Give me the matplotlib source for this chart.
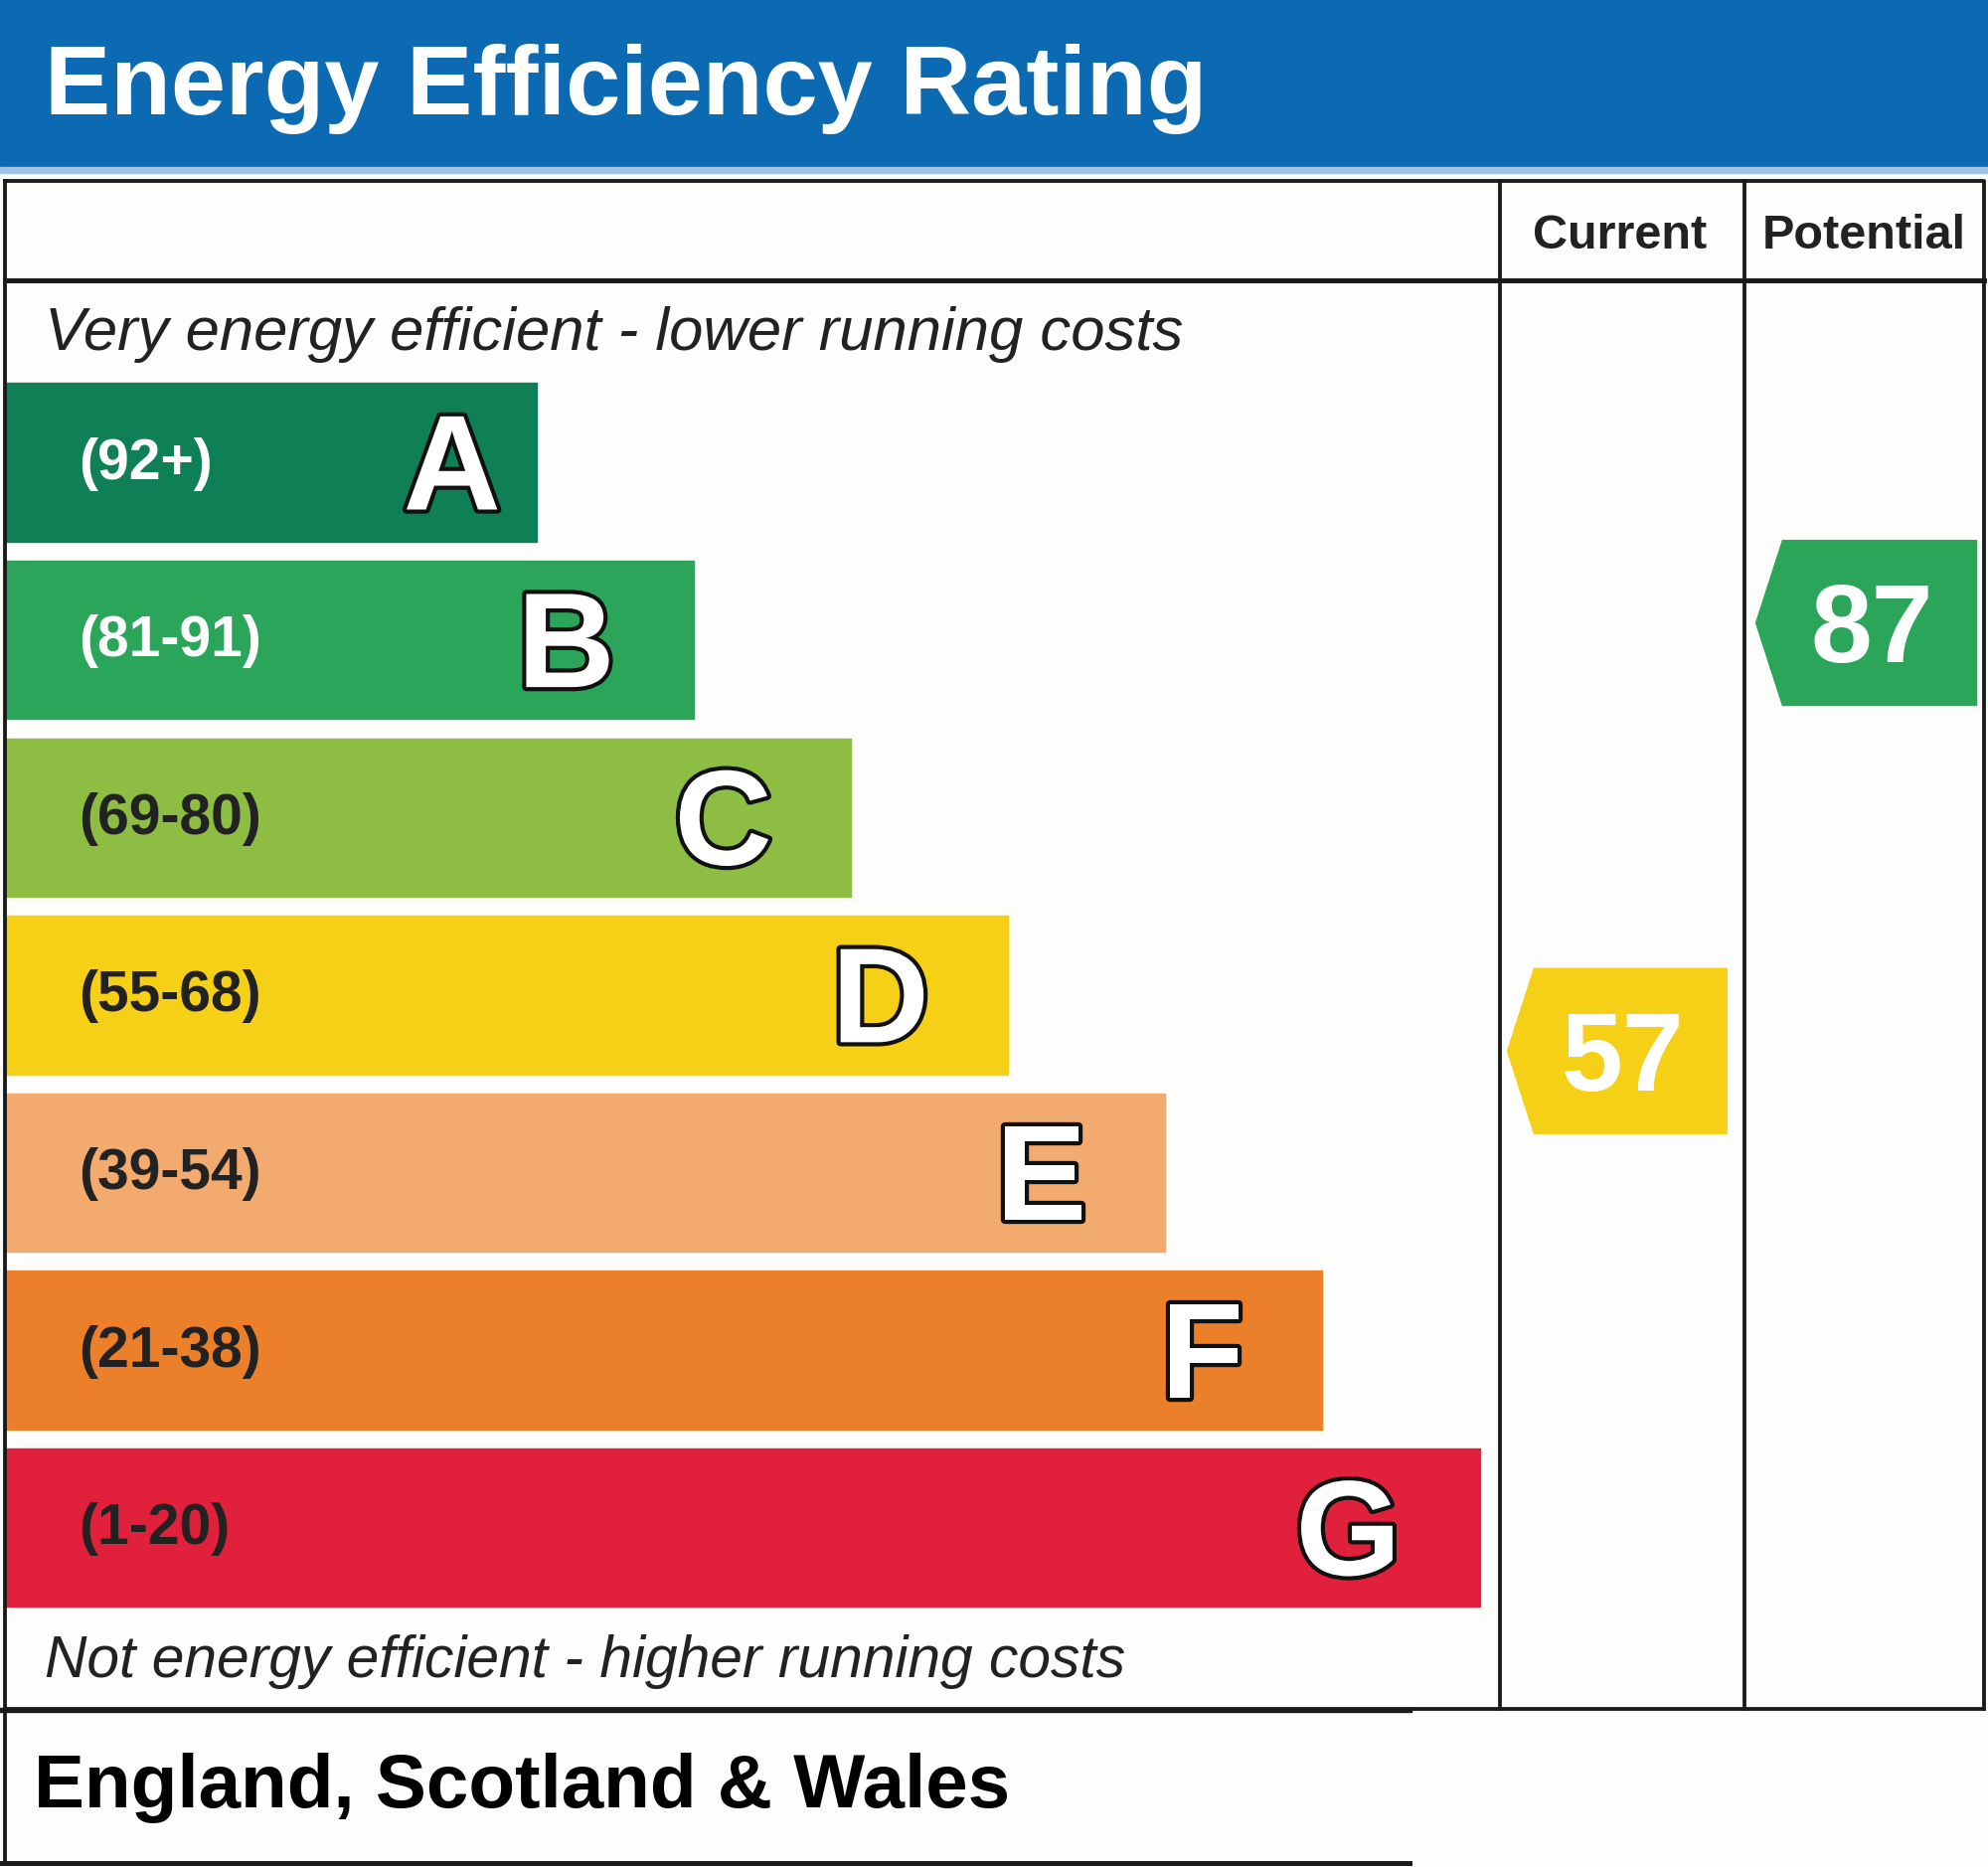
import matplotlib.pyplot as plt
import matplotlib.patheffects as pe
from matplotlib.patches import Rectangle, Polygon

# rating bands, top (best) to bottom
letters = ["A", "B", "C", "D", "E", "F", "G"]
ranges = ["(92+)", "(81-91)", "(69-80)", "(55-68)", "(39-54)", "(21-38)", "(1-20)"]
band_low = [92, 81, 69, 55, 39, 21, 1]
band_high = [100, 91, 80, 68, 54, 38, 20]
band_colors = ["#0f7f56", "#2aa55a", "#8dbe43", "#f6cf17", "#f3aa6e", "#ec7f2a", "#e1203c"]
label_colors = ["white", "white", "#222222", "#222222", "#222222", "#222222", "#222222"]

current_rating = 57
potential_rating = 87

# drawing units follow the picture at 1568 x 1472, saved at 2000 x 1878
W, H = 1568, 1472
S = 2000 / W
PT = S * 72 / 100          # points per drawing unit
CAP = 0.716                 # cap height of Liberation Sans, in em

plt.rcParams['font.family'] = ['Liberation Sans', 'DejaVu Sans']

fig = plt.figure(figsize=(20, 18.78), dpi=100)
fig.patch.set_facecolor("#fdfdfb")
ax = fig.add_axes([0, 0, 1, 1])
ax.set_xlim(0, W)
ax.set_ylim(H, 0)
ax.axis("off")


def cap_px(size):
    return size / PT * CAP


# blue header
ax.add_patch(Rectangle((0, 0), W, 132, color="#0b6ab2", zorder=1))
ax.add_patch(Rectangle((0, 132), W, 4, color="#9fc3e6", zorder=1))
ax.text(35, 90, "Energy Efficiency Rating", color="white", fontsize=71.5,
        fontweight="bold", va="baseline", ha="left")

# table frame
lw = 3 * PT
left, top, right, bottom = 4, 143, 1565, 1347
col1, col2 = 1183, 1376
head_y = 221
ax.plot([left, right, right], [top, top, bottom], color="#1a1a1a", lw=lw, zorder=5)
ax.plot([left, left], [top, 1470], color="#1a1a1a", lw=lw, zorder=5)
ax.plot([left, right], [head_y, head_y], color="#1a1a1a", lw=lw * 1.3, zorder=5)
ax.plot([col1, col1], [top, bottom], color="#1a1a1a", lw=lw, zorder=5)
ax.plot([col2, col2], [top, bottom], color="#1a1a1a", lw=lw, zorder=5)
ax.plot([left, right], [bottom, bottom], color="#1a1a1a", lw=lw, zorder=5)
ax.plot([0, 1112], [bottom + 1, bottom + 1], color="#1a1a1a", lw=lw * 1.4, zorder=5)
ax.plot([0, 1112], [1469, 1469], color="#1a1a1a", lw=lw * 1.3, zorder=5)

ax.text((col1 + col2) / 2 - 2, 196, "Current", fontsize=35, fontweight="bold",
        color="#222222", ha="center", va="baseline")
ax.text((col2 + right) / 2, 196, "Potential", fontsize=35, fontweight="bold",
        color="#222222", ha="center", va="baseline")

ax.text(35, 276, "Very energy efficient - lower running costs", fontsize=44.4,
        style="italic", color="#222222", ha="left", va="baseline")
ax.text(35, 1322, "Not energy efficient - higher running costs", fontsize=42.3,
        style="italic", color="#222222", ha="left", va="baseline")
ax.text(27, 1425, "England, Scotland & Wales", fontsize=55, fontweight="bold",
        color="black", ha="left", va="baseline")

# bands
bar_top0, bar_step, bar_h = 302, 140, 125
bar_end0, bar_grow = 423, 124
for i, letter in enumerate(letters):
    y0 = bar_top0 + i * bar_step
    x1 = bar_end0 + i * bar_grow
    yc = y0 + bar_h / 2
    ax.add_patch(Rectangle((left, y0), x1 - left, bar_h, color=band_colors[i], zorder=2))
    ax.text(62, yc + cap_px(41) / 2 - 3, ranges[i], fontsize=41, fontweight="bold",
            color=label_colors[i], ha="left", va="baseline", zorder=3)
    off = 28 if i == 0 else 62
    t = ax.text(x1 - off, yc + cap_px(98) / 2 - 1, letter, fontsize=98, fontweight="bold",
                color="white", ha="right", va="baseline", zorder=3)
    t.set_path_effects([pe.withStroke(linewidth=6, foreground="#111111")])


def rating_y(r):
    for i in range(len(letters)):
        if band_low[i] <= r <= band_high[i]:
            span = band_high[i] - band_low[i] + 1
            if i == 0:
                span = 11
                frac = (band_low[i] + span - 0.5 - r) / span
            else:
                frac = (band_high[i] + 0.5 - r) / span
            return bar_top0 + i * bar_step + frac * bar_h
    return bar_top0


def rating_arrow(r, xa, xb, shift):
    yc = rating_y(r) + shift
    hh = 65
    tip = 21
    color = band_colors[[i for i in range(len(letters)) if band_low[i] <= r <= band_high[i]][0]]
    pts = [(xa, yc), (xa + tip, yc - hh), (xb, yc - hh), (xb, yc + hh), (xa + tip, yc + hh)]
    ax.add_patch(Polygon(pts, closed=True, color=color, zorder=4))
    ax.text((xa + tip + xb) / 2 - 6, yc + cap_px(80) / 2, str(r), fontsize=80,
            fontweight="bold", color="white", ha="center", va="baseline", zorder=6)


rating_arrow(current_rating, col1 + 6, col2 - 14, 4)
rating_arrow(potential_rating, col2 + 9, right - 6, -2)

fig.savefig("out.png", dpi=100, facecolor=fig.get_facecolor())
